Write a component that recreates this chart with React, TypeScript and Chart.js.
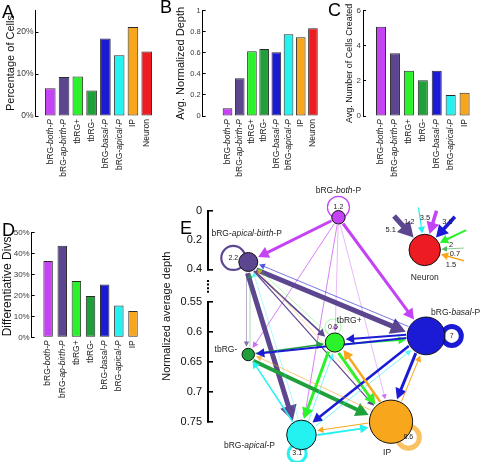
import React, { useEffect, useRef } from "react";
import { Chart, registerables } from "chart.js";

Chart.register(...registerables);

const FONT = "'Liberation Sans', Arial, Helvetica, sans-serif";
Chart.defaults.font.family = FONT;

// ---------------- data ----------------
// "|" toggles italic
const cellTypes = ["bRG-|both-P", "bRG-|ap-birth-P", "tbRG+", "tbRG-", "bRG-|basal-P", "bRG-|apical-P", "IP", "Neuron"];
const progenitorTypes = cellTypes.slice(0, 7);
const typeColors = ["#c443f4", "#5d4690", "#2cf22c", "#20a03a", "#1b1bd6", "#24f2f0", "#f8a61c", "#ec1c22"];

const pctCells = [6.6, 9.3, 9.4, 6.1, 18.5, 14.5, 21.2, 15.4];
const pctTicks = [0, 10, 20];

const avgDepth = [0.073, 0.358, 0.614, 0.636, 0.605, 0.776, 0.747, 0.833];
const depthTicks = [0, 0.2, 0.4, 0.6, 0.8, 1];

const cellsCreated = [5.09, 3.57, 2.58, 2.03, 2.58, 1.2, 1.33];
const createdTicks = [0, 2, 4, 6];

const diffDivs = [36.3, 43.6, 26.8, 19.7, 25.2, 15.2, 12.5];
const diffTicks = [0, 10, 20, 30, 40, 50];

// panel E (network)
const nodeNames = ["bRG-|both|-P", "bRG-|apical-birth|-P", "tbRG+", "tbRG-", "bRG-|basal|-P", "bRG-|apical|-P", "IP", "Neuron"];
const nodeColumn = [47.6, 14.7, 46.3, 14.7, 79.6, 34.1, 66.8, 79.1];
const nodeDepth = [0.045, 0.35, 0.618, 0.638, 0.607, 0.772, 0.75, 0.268];
const selfRenewal = [1.2, 2.2, 0.5, 0, 7, 3.1, 8.6, 0];
const depthTicksUpper = [0, 0.2, 0.4];
const depthTicksLower = [0.55, 0.6, 0.65, 0.7, 0.75];
// [from, to, weight]
const transitions: [number, number, number][] = [
  [0, 1, 3], [0, 4, 3], [0, 3, 0.9], [0, 5, 0.9], [0, 2, 0.5], [0, 6, 0.5],
  [1, 4, 5], [1, 5, 5], [1, 2, 1.6], [1, 6, 1.2], [1, 3, 0.6],
  [2, 5, 3], [2, 6, 3], [2, 4, 1.6], [2, 1, 0.5],
  [3, 6, 4], [3, 2, 1.5], [3, 1, 0.5],
  [4, 6, 3], [4, 5, 2.5], [4, 2, 2], [4, 3, 2], [4, 1, 0.8],
  [5, 6, 2], [5, 3, 1.5], [5, 2, 0.8], [5, 4, 0.8], [5, 1, 0.5],
  [6, 2, 2.5], [6, 5, 1], [6, 4, 1], [6, 3, 0.8], [6, 1, 0.5],
];
const neuronSources = [1, 5, 0, 4, 2, 3, 6];
const neuronFlow = [5.1, 1.2, 3.5, 3.6, 2, 0.7, 1.5];
const neuronStubColumn = [67.9, 76.8, 83.4, 90.1, 94.2, 93.4, 93.4];
const neuronStubDepth = [0.036, -0.023, 0.0, 0.041, 0.132, 0.255, 0.341];

// ---------------- layout (positions / styles) ----------------
const neuronLabelAt = [[66.7, 0.132], [73.4, 0.077], [79.2, 0.05], [87.4, 0.077], [88.7, 0.234], [90.1, 0.296], [88.7, 0.371]];
const nodeLabelOffset: [number, number, string][] = [
  [0, -27, "center"], [-1.6, -28.7, "center"], [2, -22, "left"], [-11, -5, "right"],
  [5, -23, "left"], [-52, 11, "center"], [-4, 31, "center"], [0, 28, "center"],
];
// [angle deg, distance, ring radius]
const loopGeom: ([number, number, number] | null)[] = [
  [-90, 10, 11], [195, 15.5, 12], [-97, 15.6, 8], null, [0, 25.7, 9.5], [103, 19, 9], [42, 23.3, 11], null,
];
const R_SCALE = 1.02;

function richText(ctx: any, text: string, x: number, y: number, size: number, align: string, color: string) {
  const parts = text.split("|");
  const fonts = parts.map((_, k) => `${k % 2 ? "italic " : ""}${size}px ${FONT}`);
  let total = 0;
  const widths = parts.map((p, k) => {
    ctx.font = fonts[k];
    const w = ctx.measureText(p).width;
    total += w;
    return w;
  });
  let cx = align === "right" ? x - total : align === "center" ? x - total / 2 : x;
  ctx.textAlign = "left";
  ctx.textBaseline = "middle";
  ctx.fillStyle = color;
  parts.forEach((p, k) => {
    ctx.font = fonts[k];
    ctx.fillText(p, cx, y);
    cx += widths[k];
  });
}

function categoryLabelPlugin(labels: string[], size: number) {
  return {
    id: "catLabels",
    afterDraw(chart: any) {
      const { ctx, chartArea } = chart;
      const xs = chart.scales.x;
      labels.forEach((lab, i) => {
        ctx.save();
        ctx.translate(xs.getPixelForValue(i), chartArea.bottom + 3);
        ctx.rotate(-Math.PI / 2);
        richText(ctx, lab, 0, 0, size, "right", "#222");
        ctx.restore();
      });
    },
  };
}

type BarSpec = {
  left: number; top: number; width: number; height: number;
  values: number[]; labels: string[]; ticks: number[]; fmt: (v: number) => string;
  axisWidth: number; padTop: number; padBottom: number; padRight: number;
  xMin: number; xMax: number; yMax: number; tickSize: number;
  title: string; titleSize: number; titlePad: number; barPct: number;
};

const panelA: BarSpec = {
  left: 0, top: 0, width: 166, height: 182, values: pctCells, labels: cellTypes, ticks: pctTicks,
  fmt: (v) => `${v}%`, axisWidth: 35.5, padTop: 10, padBottom: 66, padRight: 4.5,
  xMin: -0.5, xMax: 7.5, yMax: 25.24, tickSize: 8.5, title: "Percentage of Cells", titleSize: 11, titlePad: 4, barPct: 0.77,
};
const panelB: BarSpec = {
  left: 170, top: 0, width: 158, height: 182, values: avgDepth, labels: cellTypes, ticks: depthTicks,
  fmt: (v) => `${v}`, axisWidth: 32.7, padTop: 10.7, padBottom: 66, padRight: 1.2,
  xMin: -1.4, xMax: 7.5, yMax: 1, tickSize: 7.5, title: "Avg. Normalized Depth", titleSize: 11, titlePad: 4, barPct: 0.79,
};
const panelC: BarSpec = {
  left: 340, top: 0, width: 142, height: 182, values: cellsCreated, labels: progenitorTypes, ticks: createdTicks,
  fmt: (v) => `${v}`, axisWidth: 23, padTop: 10.7, padBottom: 66, padRight: 2.1,
  xMin: -0.695, xMax: 6.5, yMax: 6, tickSize: 8, title: "Avg. Number of Cells Created", titleSize: 9, titlePad: 4, barPct: 0.72,
};
const panelD: BarSpec = {
  left: 0, top: 220, width: 150, height: 182, values: diffDivs, labels: progenitorTypes, ticks: diffTicks,
  fmt: (v) => `${v}%`, axisWidth: 31.7, padTop: 12.3, padBottom: 64.7, padRight: 1.6,
  xMin: -0.57, xMax: 6.5, yMax: 50, tickSize: 8, title: "Differentiative Divs.", titleSize: 12, titlePad: 0, barPct: 0.67,
};

function barConfig(s: BarSpec): any {
  return {
    type: "bar",
    data: {
      datasets: [{
        data: s.values.map((v, i) => ({ x: i, y: v })),
        backgroundColor: s.values.map((_, i) => typeColors[i]),
        borderColor: "#2b2b2b",
        borderWidth: 1,
        borderSkipped: false,
        barPercentage: s.barPct,
        categoryPercentage: 1,
      }],
    },
    options: {
      responsive: false,
      animation: false,
      events: [],
      layout: { padding: { top: s.padTop, bottom: s.padBottom, right: s.padRight, left: 0 } },
      plugins: { legend: { display: false }, tooltip: { enabled: false } },
      scales: {
        x: {
          type: "linear", min: s.xMin, max: s.xMax, display: false,
          afterBuildTicks: (sc: any) => { sc.ticks = s.values.map((_, i) => ({ value: i })); },
        },
        y: {
          min: 0, max: s.yMax,
          afterFit: (sc: any) => { sc.width = s.axisWidth; },
          afterBuildTicks: (sc: any) => { sc.ticks = s.ticks.map((v) => ({ value: v })); },
          ticks: { autoSkip: false, callback: (v: any) => s.fmt(Number(v)), font: { size: s.tickSize }, color: "#3a3a3a", padding: 5 },
          grid: { drawOnChartArea: false, tickLength: -3, color: "#000" },
          border: { color: "#000", width: 1 },
          title: { display: true, text: s.title, font: { size: s.titleSize }, color: "#111", padding: { top: s.titlePad, bottom: 0 } },
        },
      },
    },
    plugins: [categoryLabelPlugin(s.labels, 8.5)],
  };
}

// ---------------- panel E ----------------
function nodePixels(chart: any) {
  const xs = chart.scales.x;
  return nodeColumn.map((c, i) => {
    const ys = nodeDepth[i] <= 0.4 ? chart.scales.yTop : chart.scales.yBot;
    return { x: xs.getPixelForValue(c), y: ys.getPixelForValue(nodeDepth[i]), r: pctCells[i] * R_SCALE };
  });
}

function arrow(ctx: any, x1: number, y1: number, x2: number, y2: number, w: number, color: string) {
  const dx = x2 - x1, dy = y2 - y1;
  const L = Math.hypot(dx, dy) || 1;
  const ux = dx / L, uy = dy / L;
  const hl = Math.min(16, 4 + 2.2 * w);
  const hw = Math.min(9, 2 + 1.3 * w);
  const bx = x2 - ux * hl, by = y2 - uy * hl;
  ctx.save();
  ctx.globalAlpha = w < 1 ? 0.75 : 1;
  ctx.strokeStyle = color;
  ctx.fillStyle = color;
  ctx.lineWidth = Math.max(0.5, w);
  ctx.beginPath();
  ctx.moveTo(x1, y1);
  ctx.lineTo(bx + ux, by + uy);
  ctx.stroke();
  ctx.beginPath();
  ctx.moveTo(x2, y2);
  ctx.lineTo(bx - uy * hw, by + ux * hw);
  ctx.lineTo(bx + uy * hw, by - ux * hw);
  ctx.closePath();
  ctx.fill();
  ctx.restore();
}

function loopCenter(P: any[], i: number) {
  const g = loopGeom[i]!;
  const a = (g[0] * Math.PI) / 180;
  return { x: P[i].x + Math.cos(a) * g[1], y: P[i].y + Math.sin(a) * g[1], r: g[2] };
}

const networkPlugin = {
  id: "network",
  beforeDatasetsDraw(chart: any) {
    const { ctx } = chart;
    const P = nodePixels(chart);
    // dotted axis break
    const mid = chart.scales.yMid;
    ctx.save();
    ctx.strokeStyle = "#000";
    ctx.lineWidth = 2;
    ctx.setLineDash([2, 1.6]);
    ctx.beginPath();
    ctx.moveTo(mid.right, mid.top + mid.height * 0.33);
    ctx.lineTo(mid.right, mid.top + mid.height * 0.73);
    ctx.stroke();
    ctx.restore();
    // self-renewal loops
    selfRenewal.forEach((v, i) => {
      if (!v || !loopGeom[i]) return;
      const c = loopCenter(P, i);
      ctx.save();
      ctx.strokeStyle = typeColors[i];
      ctx.globalAlpha = i === 6 ? 0.7 : i === 2 ? 0.6 : 1;
      ctx.lineWidth = Math.max(0.7, Math.min(5, v));
      ctx.beginPath();
      ctx.arc(c.x, c.y, c.r, 0, Math.PI * 2);
      ctx.stroke();
      ctx.restore();
    });
    // transitions
    const key = new Set(transitions.map(([f, t]) => `${f}-${t}`));
    transitions.forEach(([f, t, w]) => {
      const a = P[f], b = P[t];
      const dx = b.x - a.x, dy = b.y - a.y;
      const L = Math.hypot(dx, dy);
      const ux = dx / L, uy = dy / L;
      const s = key.has(`${t}-${f}`) ? 1.5 + w / 2 : 0;
      const nx = -uy * s, ny = ux * s;
      arrow(ctx,
        a.x + ux * (a.r + 1) + nx, a.y + uy * (a.r + 1) + ny,
        b.x - ux * (b.r + 1.5) + nx, b.y - uy * (b.r + 1.5) + ny,
        w, typeColors[f]);
    });
    // neuron inputs
    const xs = chart.scales.x, yt = chart.scales.yTop;
    const n = P[7];
    neuronSources.forEach((src, k) => {
      const sx = xs.getPixelForValue(neuronStubColumn[k]);
      const sy = yt.getPixelForValue(neuronStubDepth[k]);
      const dx = n.x - sx, dy = n.y - sy;
      const L = Math.hypot(dx, dy);
      arrow(ctx, sx, sy, n.x - (dx / L) * (n.r + 1), n.y - (dy / L) * (n.r + 1), neuronFlow[k], typeColors[src]);
    });
  },
  afterDatasetsDraw(chart: any) {
    const { ctx } = chart;
    const P = nodePixels(chart);
    ctx.save();
    nodeNames.forEach((name, i) => {
      const o = nodeLabelOffset[i];
      richText(ctx, name, P[i].x + o[0], P[i].y + o[1], 8.5, o[2], "#222");
    });
    selfRenewal.forEach((v, i) => {
      if (!v || !loopGeom[i]) return;
      const c = loopCenter(P, i);
      richText(ctx, String(v), c.x, c.y, 7, "center", "#222");
    });
    const xs = chart.scales.x, yt = chart.scales.yTop;
    neuronFlow.forEach((v, k) => {
      richText(ctx, String(v), xs.getPixelForValue(neuronLabelAt[k][0]), yt.getPixelForValue(neuronLabelAt[k][1]), 7.5, "center", "#222");
    });
    ctx.restore();
  },
  afterDraw(chart: any) {
    const { ctx, chartArea } = chart;
    ctx.save();
    ctx.translate(27, (chartArea.top + chartArea.bottom) / 2);
    ctx.rotate(-Math.PI / 2);
    richText(ctx, "Normalized average depth", 0, 0, 11, "center", "#111");
    ctx.restore();
  },
};

function depthAxis(min: number, max: number, ticks: number[], weight: number, stackWeight: number, showAll: boolean, visible: boolean): any {
  return {
    type: "linear",
    position: "left",
    stack: "depth",
    stackWeight,
    weight,
    reverse: true,
    min,
    max,
    afterFit: (sc: any) => { sc.width = 68; },
    afterBuildTicks: (sc: any) => { sc.ticks = ticks.map((v) => ({ value: v })); },
    ticks: { display: visible, autoSkip: false, font: { size: 11 }, color: "#111", padding: 11, callback: (v: any) => String(v) },
    grid: {
      display: visible,
      drawOnChartArea: false,
      tickLength: -5,
      lineWidth: 1.6,
      color: (c: any) => (!showAll && c.tick && c.index !== 0 && c.index !== ticks.length - 1 ? "rgba(0,0,0,0)" : "#000"),
    },
    border: { display: visible, color: "#000", width: 2 },
  };
}

function networkConfig(): any {
  const topIdx = nodeDepth.map((d, i) => (d <= 0.4 ? i : -1)).filter((i) => i >= 0);
  const botIdx = nodeDepth.map((d, i) => (d > 0.4 ? i : -1)).filter((i) => i >= 0);
  const ds = (idx: number[], axis: string) => ({
    data: idx.map((i) => ({ x: nodeColumn[i], y: nodeDepth[i], r: pctCells[i] * R_SCALE })),
    yAxisID: axis,
    backgroundColor: idx.map((i) => typeColors[i]),
    borderColor: "#111",
    borderWidth: 1,
    clip: false,
  });
  return {
    type: "bubble",
    data: { datasets: [ds(topIdx, "yTop"), ds(botIdx, "yBot")] },
    options: {
      responsive: false,
      animation: false,
      events: [],
      layout: { autoPadding: false, padding: { top: 30.7, bottom: 40.3, left: 0, right: 0 } },
      plugins: { legend: { display: false }, tooltip: { enabled: false } },
      scales: {
        x: { type: "linear", min: 0, max: 100, display: false },
        yTop: depthAxis(0, 0.4, depthTicksUpper, 3, 58.6, false, true),
        yMid: depthAxis(0.4, 0.55, [], 2, 32.4, true, false),
        yBot: depthAxis(0.55, 0.75, depthTicksLower, 1, 120, true, true),
      },
    },
    plugins: [networkPlugin],
  };
}

const letterStyle = (left: number, top: number): React.CSSProperties => ({
  position: "absolute", left, top, fontFamily: FONT, fontSize: 18, lineHeight: "18px", color: "#000",
});

export default function App() {
  const aRef = useRef<HTMLCanvasElement>(null);
  const bRef = useRef<HTMLCanvasElement>(null);
  const cRef = useRef<HTMLCanvasElement>(null);
  const dRef = useRef<HTMLCanvasElement>(null);
  const eRef = useRef<HTMLCanvasElement>(null);

  useEffect(() => {
    const prev = document.body.style.margin;
    document.body.style.margin = "0";
    const charts = [
      new Chart(aRef.current!, barConfig(panelA)),
      new Chart(bRef.current!, barConfig(panelB)),
      new Chart(cRef.current!, barConfig(panelC)),
      new Chart(dRef.current!, barConfig(panelD)),
      new Chart(eRef.current!, networkConfig()),
    ];
    return () => {
      charts.forEach((c) => c.destroy());
      document.body.style.margin = prev;
    };
  }, []);

  const cv = (ref: any, l: number, t: number, w: number, h: number) => (
    <canvas ref={ref} width={w} height={h} style={{ position: "absolute", left: l, top: t, width: w, height: h }} />
  );

  return (
    <div style={{ position: "relative", width: 482, height: 462, background: "#fff", overflow: "hidden" }}>
      {cv(aRef, panelA.left, panelA.top, panelA.width, panelA.height)}
      {cv(bRef, panelB.left, panelB.top, panelB.width, panelB.height)}
      {cv(cRef, panelC.left, panelC.top, panelC.width, panelC.height)}
      {cv(dRef, panelD.left, panelD.top, panelD.width, panelD.height)}
      {cv(eRef, 140, 180, 342, 282)}
      <div style={letterStyle(2, 3)}>A</div>
      <div style={letterStyle(160, -2)}>B</div>
      <div style={letterStyle(328, 1)}>C</div>
      <div style={letterStyle(2, 221)}>D</div>
      <div style={letterStyle(180, 219)}>E</div>
    </div>
  );
}
